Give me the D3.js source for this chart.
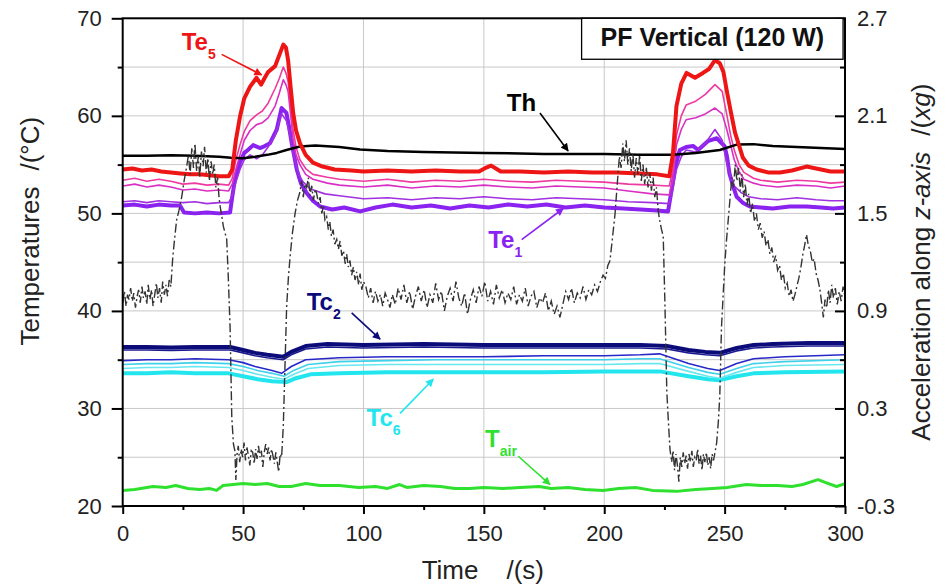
<!DOCTYPE html>
<html>
<head>
<meta charset="utf-8">
<script src="https://cdn.jsdelivr.net/npm/d3@7"></script>
<style>
  body { margin: 0; background: #fff; }
  svg { display: block; font-family: "Liberation Sans", Arial, sans-serif; }
</style>
</head>
<body>
<div id="chart"></div>
<script>
const width = 949, height = 586;

// ---- data: [time (s), value] ----
const te5 = [[0,54.5],[4,54.6],[8,54.4],[12,54.5],[16,54.3],[20,54.2],[24,54.1],[28,54.0],[32,54.0],[36,53.9],[40,53.8],[44,53.8],[45.5,54.5],[47,57.5],[48.7,59.9],[50.5,61.8],[52.9,63.0],[55.6,63.9],[57.5,63.2],[59,63.9],[60.4,64.5],[63.3,65.1],[65,66.2],[66.7,67.3],[67.8,67.0],[68.7,65.7],[69.8,62.8],[70.8,60.3],[72,58.5],[73.6,57.2],[76,56.0],[79,55.2],[83,54.8],[88,54.5],[95,54.4],[100,54.3],[110,54.4],[120,54.3],[130,54.4],[140,54.3],[148,54.3],[151,54.7],[153,54.9],[155,54.6],[157,54.3],[165,54.3],[175,54.2],[185,54.3],[195,54.2],[205,54.2],[215,54.1],[222,54.0],[227,53.8],[228.5,56],[230,61.0],[232,63.3],[234.2,64.4],[237.7,63.9],[241,64.4],[243.5,64.8],[246,65.7],[248,65.4],[249.5,64.5],[250.8,62.7],[252.5,60.5],[254.3,58.3],[257.6,55.7],[260,54.9],[263.3,54.5],[268,54.2],[273,54.2],[278,54.4],[284,54.8],[288,54.6],[294,54.3],[300,54.3]];
const te4 = [[0,53.4],[5,53.6],[10,53.3],[15,53.5],[20,53.3],[25,53.0],[30,53.1],[35,52.9],[40,53.0],[44,52.9],[45.5,53.6],[47,55.5],[48.7,57.0],[50.5,58.4],[52.9,59.5],[55.6,60.1],[58,60.5],[60.4,61.3],[63.3,62.8],[65,63.8],[66.7,65.0],[67.8,64.4],[68.7,63.5],[69.8,61.0],[70.8,58.5],[72,56.8],[73.6,55.5],[76,54.6],[79,54.0],[85,53.7],[90,53.5],[100,53.3],[110,53.5],[120,53.2],[130,53.4],[140,53.3],[150,53.5],[160,53.3],[170,53.2],[180,53.4],[190,53.3],[200,53.2],[210,53.0],[220,52.9],[227,52.8],[228.5,54.5],[230,58.0],[232,60.0],[234,61.1],[238,61.5],[242,62.2],[246,63.2],[249,62.5],[251,60.0],[252.5,58.0],[254,56.5],[256,55.0],[258,54.2],[262,53.6],[265,53.4],[272,53.2],[280,53.4],[288,53.3],[294,53.1],[300,53.2]];
const te3 = [[0,52.8],[5,53.0],[10,52.7],[15,52.9],[20,52.7],[25,52.4],[30,52.5],[35,52.3],[40,52.4],[44,52.3],[45.5,53.0],[47,54.5],[48.7,56.0],[50.5,57.5],[52.9,58.5],[55.6,59.1],[58,59.3],[60.4,59.8],[63.3,61.0],[65,62.3],[66.7,63.7],[67.8,63.2],[68.7,62.5],[69.8,60.0],[70.8,57.5],[72,56.0],[73.6,55.0],[76,54.0],[79,53.5],[85,53.1],[90,52.9],[100,52.7],[110,52.9],[120,52.6],[130,52.8],[140,52.7],[150,52.9],[160,52.7],[170,52.6],[180,52.8],[190,52.7],[200,52.6],[210,52.3],[220,52.0],[227,51.9],[228.5,53.5],[230,57.0],[232,58.6],[234,59.6],[238,59.8],[242,60.2],[246,60.8],[249,60.2],[251,58.5],[252.5,57.0],[254,55.5],[256,54.3],[258,53.5],[262,53.1],[265,52.9],[272,52.7],[280,52.9],[288,52.8],[294,52.6],[300,52.8]];
const te2 = [[0,51.2],[5,51.3],[10,51.1],[15,51.3],[20,51.2],[25,51.1],[30,51.2],[35,51.0],[40,51.1],[44,51.1],[45.5,51.8],[47,53.2],[48.7,54.5],[50.5,55.5],[52.9,56.0],[55.6,55.6],[58,56.0],[60.4,56.8],[63.3,58.0],[66,60.2],[68,59.5],[69.5,58.0],[70.5,56.5],[72,55.0],[73,54.0],[75,53.2],[78,52.5],[84,52.0],[90,51.8],[100,51.5],[110,51.6],[120,51.4],[130,51.6],[140,51.5],[150,51.7],[160,51.5],[170,51.4],[180,51.6],[190,51.5],[200,51.4],[210,51.2],[220,51.1],[227,51.0],[228.5,52.5],[230,54.5],[232,55.8],[234,56.5],[238,56.3],[242,57.2],[246,58.6],[249,57.5],[251,55.0],[252.5,53.8],[254,52.8],[257,52.1],[260,51.7],[265,51.5],[272,51.4],[280,51.6],[288,51.4],[294,51.3],[300,51.3]];
const te1 = [[0,50.8],[5,50.9],[10,50.7],[15,50.9],[20,50.8],[23.8,50.8],[25.5,50.1],[30,50.0],[35,50.1],[40,50.0],[44.6,50.1],[45.5,51.7],[46.6,53.4],[48.7,55.2],[50.5,56.2],[52,56.5],[54.2,57.0],[57,56.7],[59,56.9],[61.2,57.2],[64,58.6],[66,60.8],[68,60.3],[69,59.0],[70.2,57.2],[72.3,54.5],[74,53.1],[76.4,52.1],[79,51.3],[82,50.7],[87,50.4],[92,50.6],[98.6,50.2],[105,50.6],[112,50.9],[120,50.6],[128,50.8],[136,50.5],[144,50.8],[152,50.6],[160,50.9],[168,50.7],[176,50.9],[184,50.6],[192,50.8],[200,50.6],[208,50.5],[215,50.4],[222,50.3],[226.5,50.2],[228,52.4],[229.5,54.8],[231.4,56.5],[234,56.8],[237,56.9],[239,56.5],[243,57.4],[246.7,57.7],[250,56.9],[251,55.8],[252,54.1],[253.5,52.8],[255,51.7],[257.5,51.1],[260.5,50.7],[265,50.6],[270,50.5],[277,50.7],[284,50.7],[290,50.6],[295,50.5],[300,50.6]];
const th = [[0,55.9],[10,55.9],[20,55.95],[30,55.9],[40,55.8],[45,55.7],[50,55.65],[55,55.8],[60,56.0],[64,56.2],[68,56.5],[73.6,56.85],[80,56.95],[90,56.8],[98.6,56.55],[110,56.4],[125,56.3],[150,56.2],[175,56.1],[200,56.1],[215,56.0],[228.5,56.0],[238,56.2],[248,56.5],[255,57.05],[262,57.1],[270,56.9],[280,56.8],[290,56.7],[300,56.6]];
const tc2 = [[0,36.3],[10,36.3],[20,36.25],[30,36.3],[40,36.3],[44.6,36.3],[50,36.0],[55,35.7],[60,35.5],[66.6,35.3],[70,35.8],[76,36.4],[85,36.6],[100,36.5],[125,36.6],[150,36.5],[175,36.5],[200,36.5],[215,36.5],[226,36.4],[235,36.0],[242,35.8],[248,35.7],[255,36.2],[262,36.5],[270,36.6],[285,36.7],[300,36.7]];
const tc1 = [[0,36.0],[10,36.0],[20,35.95],[30,36.0],[40,36.0],[44.6,36.0],[50,35.7],[55,35.4],[60,35.2],[66.6,35.0],[70,35.5],[76,36.1],[85,36.3],[100,36.2],[125,36.3],[150,36.2],[175,36.2],[200,36.2],[215,36.2],[226,36.1],[235,35.7],[242,35.5],[248,35.4],[255,35.9],[262,36.2],[270,36.3],[285,36.4],[300,36.4]];
const tc3 = [[0,34.9],[10,35.0],[20,35.0],[30,35.1],[44,35.0],[50,34.7],[55,34.3],[62,33.9],[66,33.6],[70,34.3],[76,35.0],[90,35.2],[110,35.3],[130,35.3],[150,35.3],[175,35.4],[200,35.4],[215,35.5],[223,35.6],[235,34.6],[243,34.1],[248,33.9],[255,34.6],[262,35.1],[275,35.3],[300,35.5]];
const tc4 = [[0,34.5],[10,34.6],[20,34.6],[30,34.7],[44,34.6],[50,34.3],[56,33.9],[62,33.6],[67,33.3],[71,33.9],[77,34.5],[90,34.8],[110,34.9],[130,35.0],[150,35.0],[175,35.0],[200,35.0],[215,35.1],[223,35.1],[235,34.2],[243,33.7],[248,33.5],[255,34.1],[262,34.6],[275,34.8],[300,35.0]];
const tc5 = [[0,34.1],[10,34.2],[20,34.2],[30,34.3],[44,34.2],[50,33.9],[56,33.5],[62,33.2],[67,33.0],[71,33.5],[77,34.1],[90,34.4],[110,34.5],[130,34.5],[150,34.5],[175,34.5],[200,34.5],[215,34.6],[223,34.6],[235,33.8],[243,33.3],[248,33.1],[255,33.7],[262,34.2],[275,34.4],[300,34.5]];
const tc6 = [[0,33.6],[10,33.6],[20,33.7],[30,33.6],[44,33.6],[50,33.3],[56,33.0],[62,32.8],[68,32.7],[72,33.1],[78,33.5],[90,33.6],[110,33.7],[130,33.7],[150,33.7],[175,33.7],[200,33.8],[215,33.8],[223,33.8],[235,33.3],[243,33.0],[248,32.9],[255,33.3],[262,33.6],[275,33.7],[300,33.8]];
const tair = [[0,21.6],[5,21.7],[10,21.9],[12.6,22.0],[18,21.9],[22,22.1],[27,21.8],[32,21.7],[36,21.8],[39,21.6],[41.7,22.1],[46,22.2],[50,22.3],[55,22.2],[60,22.3],[65,22.0],[70,22.0],[76,22.3],[82,22.1],[90,22.1],[98,21.9],[105,22.0],[110,21.8],[115,22.2],[118,21.9],[125,22.1],[132,22.0],[138,21.8],[144,21.8],[150,21.9],[158,21.8],[165,21.9],[173,22.0],[178,21.8],[185,21.9],[192,21.7],[199.5,21.6],[206,21.8],[213,21.9],[220,21.6],[230,21.5],[238,21.7],[245,21.8],[251,21.9],[259,22.2],[265,22.1],[272,22.1],[278,22.0],[282.5,22.2],[288.8,22.7],[292,22.4],[296.5,22.0],[300,22.3]];

// acceleration along z (xg), right axis
const accel = [[0,0.95],[0.7,1.02],[1.4,0.93],[2,1.00],[2.6,0.97],[3.3,1.04],[4,0.96],[4.6,1.01],[5.3,0.92],[6,0.99],[6.6,1.03],[7.3,0.95],[8,1.05],[8.6,0.98],[9.3,1.02],[10,0.94],[10.6,1.06],[11.3,0.97],[12,1.03],[12.6,0.93],[13.3,1.00],[14,1.07],[14.6,0.98],[15.3,1.04],[16,0.95],[16.6,1.08],[17.3,1.00],[18,1.06],[18.6,0.99],[19.3,1.09],[20,1.05],
  [20.8,1.23],[21.6,1.35],[22.4,1.46],[23.4,1.52],[24.5,1.60],[25.5,1.70],[26.6,1.79],
  [27.3,1.86],[28,1.74],[28.7,1.90],[29.4,1.78],[30,1.93],[30.7,1.76],[31.4,1.85],[32,1.72],[32.7,1.88],[33.4,1.79],[34,1.91],[34.7,1.75],[35.4,1.84],[36,1.70],[36.7,1.82],[37.4,1.74],[38,1.80],[38.7,1.66],[39.4,1.72],[40,1.60],[40.5,1.54],[41.2,1.48],[41.8,1.42],[42.5,1.38],[43.2,1.34],[43.9,1.09],[44.6,0.80],[45.3,0.25],[46,0.08],[46.6,0.04],
  [47,-0.14],[47.5,0.02],[48,0.07],[48.6,-0.03],[49.2,0.05],[49.8,0.00],[50.4,0.09],[51,-0.02],[51.6,0.06],[52.2,0.01],[52.8,-0.05],[53.4,0.04],[54,0.03],[54.6,-0.04],[55.2,0.05],[55.8,-0.01],[56.4,0.07],[57,0.00],[57.6,0.04],[58.2,-0.06],[58.8,0.03],[59.4,0.08],[60,0.02],[60.6,0.06],[61.2,-0.02],[61.8,0.05],[62.4,0.01],[63,-0.04],[63.6,0.03],[64.2,-0.03],[64.8,-0.09],[65.4,0.02],[66,0.00],
  [66.7,0.19],[67.4,0.56],[68.1,0.93],[68.8,1.10],[69.5,1.23],[70.5,1.38],[71.6,1.50],[72.6,1.58],[73.6,1.63],[74.3,1.70],[75,1.60],[75.7,1.68],[76.4,1.66],[77.1,1.72],[77.8,1.61],[78.5,1.67],[79.2,1.58],[80,1.65],[80.6,1.62],[81.3,1.56],[82,1.60],[82.7,1.50],[83.4,1.55],[84,1.46],[84.7,1.48],[85.4,1.40],[86,1.45],[86.7,1.36],[87.4,1.40],[88.1,1.31],[88.9,1.34],[89.6,1.28],[90.3,1.33],[91,1.24],[91.7,1.27],[92.4,1.19],[93,1.25],[93.7,1.17],[94.4,1.21],[95.1,1.12],[95.8,1.17],[96.5,1.09],[97.2,1.14],[98,1.06],[98.6,1.13],[99.3,1.03],[100,1.08],[101,1.05],[102,0.98],[103,1.04],[104,0.95],[105,1.02],[106,0.96],[107,1.00],[108,0.93],[109,1.01],[110,0.97],[111,0.92],
  [112,1.00],[113.2,0.94],[114.4,1.04],[115.6,0.97],[116.8,1.06],[118,0.95],[119.2,1.02],[120.4,0.91],[121.6,0.99],[122.8,1.05],[124,0.96],[125.2,1.03],[126.4,0.92],[127.6,1.00],[128.8,0.95],[130,1.07],[131.2,0.97],[132.4,1.02],[133.6,0.90],[134.8,0.99],[136,1.04],[137.2,0.96],[138.4,1.08],[139.6,0.98],[140.8,0.93],[142,1.01],[143.2,0.88],[144.4,0.97],[145.6,1.03],[146.8,0.95],[148,1.05],[149.2,0.99],[150.4,1.08],[151.6,0.96],[152.8,1.02],[154,0.94],[155.2,1.06],[156.4,0.98],[157.6,1.03],[158.8,0.95],[160,1.01],[161.2,0.97],[162.4,1.05],[163.6,0.94],[164.8,1.00],[166,0.96],[167.2,1.04],[168.4,0.93],[169.6,0.99],[170.8,1.02],[172,0.92],[173.2,0.98],[174.4,0.95],[175.6,1.01],[176.8,0.90],[178,0.96],[179.2,0.88],[180.4,0.93],[181.6,0.86],[182.8,0.94],[184,1.02],[185.2,0.97],[186.4,1.04],[187.6,0.95],[188.8,1.01],[190,0.98],[191.2,1.05],[192.4,0.97],[193.6,1.03],[194.8,1.00],[196,1.06],[197.2,1.02],[198.4,1.08],
  [199.5,1.12],[200.5,1.10],[201.5,1.18],[202.4,1.21],[203.5,1.36],[204.5,1.50],[205.5,1.70],[206.3,1.85],[207,1.78],[207.7,1.93],[208.4,1.82],[209.1,1.95],[209.8,1.80],[210.5,1.90],[211.2,1.76],[211.9,1.87],[212.6,1.72],[213.3,1.84],[214,1.74],[214.7,1.86],[215.4,1.70],[216.1,1.80],[216.8,1.68],[217.5,1.78],[218.2,1.66],[218.9,1.75],[219.6,1.64],[220.3,1.72],[221,1.60],[221.7,1.66],[222.4,1.52],[223,1.46],[223.8,1.40],[224.5,1.36],[225.2,0.95],[226,0.40],[226.6,0.23],[227.3,0.05],
  [228,-0.03],[228.6,0.04],[229.2,-0.08],[229.8,0.02],[230.4,-0.05],[231,-0.15],[231.6,0.00],[232.2,-0.06],[232.8,0.03],[233.4,-0.04],[234,0.01],[234.6,-0.07],[235.2,0.02],[235.8,-0.03],[236.4,0.04],[237,-0.06],[237.6,0.00],[238.2,-0.02],[238.8,0.05],[239.4,-0.04],[240,0.01],[240.6,-0.08],[241.2,0.02],[241.8,-0.03],[242.4,0.03],[243,-0.05],[243.6,0.00],[244.2,-0.07],[244.8,0.02],[245.4,-0.02],[246,0.03],
  [246.7,0.09],[247.4,0.22],[248,0.38],[248.7,0.80],[249.4,1.00],[250,1.17],[250.7,1.32],[251.5,1.46],[252.3,1.60],[253,1.72],[253.7,1.66],[254.4,1.80],[255.1,1.70],[255.8,1.78],[256.5,1.64],[257.2,1.74],[257.9,1.60],[258.6,1.68],[259.3,1.55],[260,1.62],[260.8,1.50],[261.6,1.56],[262.4,1.45],[263.2,1.50],[264,1.40],[264.8,1.44],[265.6,1.35],[266.4,1.39],[267.2,1.30],[268,1.34],[268.8,1.25],[269.6,1.29],[270.4,1.20],[271.2,1.24],[272,1.15],[272.8,1.18],[273.6,1.09],[274.4,1.13],[275.2,1.04],[276,1.07],[276.8,0.99],[277.6,1.03],[278.4,0.96],[279.2,1.00],[280,1.05],[280.8,1.10],[281.6,1.16],[282.4,1.24],[283.2,1.30],[284,1.37],[284.8,1.30],[285.6,1.27],[286.4,1.20],[287.2,1.22],[288,1.13],[288.8,1.09],[289.6,1.03],[290.3,0.95],[291,0.86],[291.7,0.97],[292.4,0.92],[293.1,1.03],[293.8,0.95],[294.5,1.06],[295.2,0.98],[296,1.04],[296.8,0.94],[297.6,1.02],[298.4,0.96],[299.2,1.05],[300,0.99]];

const tempTicks = [20, 30, 40, 50, 60, 70];
const tempMinor = [25, 35, 45, 55, 65];
const timeTicks = [0, 50, 100, 150, 200, 250, 300];
const timeMinor = [25, 75, 125, 175, 225, 275];
const accTicks = [-0.3, 0.3, 0.9, 1.5, 2.1, 2.7];
const accMinor = [0, 0.6, 1.2, 1.8, 2.4];

// series drawn back to front
const series = [
  {name: "Tair", data: tair, color: "#2fe02f", w: 3},
  {name: "Tc6", data: tc6, color: "#22e5ee", w: 4},
  {name: "Tc5", data: tc5, color: "#66e8f0", w: 1.6},
  {name: "Tc4", data: tc4, color: "#3fd0ea", w: 1.6},
  {name: "Tc3", data: tc3, color: "#2828c8", w: 1.6},
  {name: "Tc1", data: tc1, color: "#1a1a90", w: 1.6},
  {name: "Tc2", data: tc2, color: "#0b0b7a", w: 4},
  {name: "Te1", data: te1, color: "#8a22f0", w: 4},
  {name: "Te2", data: te2, color: "#a030e0", w: 1.6},
  {name: "Te3", data: te3, color: "#d92fc4", w: 1.6},
  {name: "Te4", data: te4, color: "#ee3aa0", w: 1.6},
  {name: "Th", data: th, color: "#000000", w: 2.5},
  {name: "Te5", data: te5, color: "#ee1515", w: 4}
];

// annotations: label position and arrow in data units
const notes = [
  {main: "Te", sub: "5", color: "#ee1515", at: [24.5, 66.7], from: [41.1, 66.3], to: [57.7, 64.2]},
  {main: "Th", sub: "", color: "#000000", at: [159.5, 60.5], from: [173.3, 60.3], to: [185.0, 56.4]},
  {main: "Te", sub: "1", color: "#8a22f0", at: [151.8, 46.4], from: [165.7, 47.3], to: [183.0, 50.5]},
  {main: "Tc", sub: "2", color: "#0b0b7a", at: [76.4, 40.1], from: [95.1, 39.8], to: [106.9, 37.1]},
  {main: "Tc", sub: "6", color: "#22e5ee", at: [101.3, 28.2], from: [115.2, 29.5], to: [129.0, 33.0]},
  {main: "T", sub: "air", color: "#2fe02f", at: [150.5, 26.1], from: [164.3, 25.1], to: [177.5, 22.2]}
];

const plotL = 122.7, plotR = 845, plotT = 18.3, plotB = 506;

const x = d3.scaleLinear().domain([0, 300]).range([plotL, plotR]);
const y = d3.scaleLinear().domain([20, 70]).range([plotB, plotT]);
const yAcc = d3.scaleLinear().domain([-0.3, 2.7]).range([plotB, plotT]);

const svg = d3.select("#chart").append("svg")
  .attr("width", width)
  .attr("height", height);

// grid
const grid = svg.append("g").attr("stroke", "#c8c8c8").attr("stroke-width", 1);
grid.selectAll("line.h").data(d3.range(25, 70, 5)).join("line")
  .attr("x1", plotL).attr("x2", plotR)
  .attr("y1", d => y(d)).attr("y2", d => y(d));
grid.selectAll("line.v").data(timeTicks.slice(1, -1)).join("line")
  .attr("y1", plotT).attr("y2", plotB)
  .attr("x1", d => x(d)).attr("x2", d => x(d));

// temperature lines
const line = d3.line().x(d => x(d[0])).y(d => y(d[1]));
svg.append("g").selectAll("path").data(series).join("path")
  .attr("d", d => line(d.data))
  .attr("fill", "none")
  .attr("stroke", d => d.color)
  .attr("stroke-width", d => d.w)
  .attr("stroke-linejoin", "round");

// acceleration
const accLine = d3.line().x(d => x(d[0])).y(d => yAcc(d[1]));
svg.append("path")
  .attr("d", accLine(accel))
  .attr("fill", "none")
  .attr("stroke", "#333")
  .attr("stroke-width", 1.4)
  .attr("stroke-dasharray", "9,3,2,3");

// axes
function styleAxis(g) {
  g.select(".domain").remove();
  g.selectAll(".tick line").attr("stroke", "#000").attr("stroke-width", 2);
  g.selectAll(".tick text").attr("fill", "#222").attr("font-size", 22)
    .attr("font-family", "Liberation Sans, Arial, sans-serif");
}

svg.append("g").attr("transform", `translate(${plotL},0)`)
  .call(d3.axisLeft(y).tickValues(tempTicks).tickSize(11).tickPadding(10).tickSizeOuter(0))
  .call(styleAxis);
svg.append("g").attr("transform", `translate(${plotL},0)`)
  .call(d3.axisLeft(y).tickValues(tempMinor).tickSize(5).tickFormat("").tickSizeOuter(0))
  .call(styleAxis);

svg.append("g").attr("transform", `translate(0,${plotB})`)
  .call(d3.axisBottom(x).tickValues(timeTicks).tickSize(8).tickPadding(11).tickSizeOuter(0))
  .call(styleAxis);
svg.append("g").attr("transform", `translate(0,${plotB})`)
  .call(d3.axisBottom(x).tickValues(timeMinor).tickSize(4).tickFormat("").tickSizeOuter(0))
  .call(styleAxis);

svg.append("g").attr("transform", `translate(${plotR},0)`)
  .call(d3.axisRight(yAcc).tickValues(accTicks).tickSize(-10).tickPadding(12)
    .tickFormat(d => d.toFixed(1)).tickSizeOuter(0))
  .call(styleAxis)
  .call(g => g.selectAll(".tick text").attr("x", 12));
svg.append("g").attr("transform", `translate(${plotR},0)`)
  .call(d3.axisRight(yAcc).tickValues(accMinor).tickSize(-5).tickFormat("").tickSizeOuter(0))
  .call(styleAxis);

// frame
svg.append("rect")
  .attr("x", plotL).attr("y", plotT)
  .attr("width", plotR - plotL).attr("height", plotB - plotT)
  .attr("fill", "none").attr("stroke", "#000").attr("stroke-width", 2);

// title box
const boxX = x(190.6), boxB = y(65.8);
svg.append("rect")
  .attr("x", boxX).attr("y", plotT)
  .attr("width", x(299.2) - boxX).attr("height", boxB - plotT)
  .attr("fill", "#fff").attr("stroke", "#000").attr("stroke-width", 1.3);
svg.append("text")
  .attr("x", (boxX + x(299.2)) / 2).attr("y", 46)
  .attr("text-anchor", "middle")
  .attr("font-size", 25).attr("font-weight", "bold").attr("fill", "#111")
  .text("PF Vertical (120 W)");

// axis titles
svg.append("text")
  .attr("transform", `translate(39,${(plotT + plotB) / 2 - 31}) rotate(-90)`)
  .attr("text-anchor", "middle")
  .attr("font-size", 26).attr("fill", "#222")
  .call(t => {
    t.append("tspan").text("Temperatures");
    t.append("tspan").attr("dx", 16).text("/(°C)");
  });

const rt = svg.append("text")
  .attr("transform", `translate(930,${(plotT + plotB) / 2}) rotate(-90)`)
  .attr("text-anchor", "middle")
  .attr("font-size", 26).attr("fill", "#222");
rt.append("tspan").text("Acceleration along ");
rt.append("tspan").attr("font-style", "italic").text("z-axis");
rt.append("tspan").attr("dx", 16).text("/(");
rt.append("tspan").attr("font-style", "italic").text("xg");
rt.append("tspan").text(")");

const bt = svg.append("text")
  .attr("x", (plotL + plotR) / 2 - 1).attr("y", 579)
  .attr("text-anchor", "middle")
  .attr("font-size", 26).attr("fill", "#222");
bt.append("tspan").text("Time");
bt.append("tspan").attr("dx", 28).text("/(s)");

// annotations
const defs = svg.append("defs");
notes.forEach((n, i) => {
  defs.append("marker")
    .attr("id", "arr" + i)
    .attr("viewBox", "0 0 10 10")
    .attr("refX", 9).attr("refY", 5)
    .attr("markerUnits", "userSpaceOnUse")
    .attr("markerWidth", 10).attr("markerHeight", 8)
    .attr("orient", "auto")
    .append("path").attr("d", "M0,0L10,5L0,10z").attr("fill", n.color);

  svg.append("line")
    .attr("x1", x(n.from[0])).attr("y1", y(n.from[1]))
    .attr("x2", x(n.to[0])).attr("y2", y(n.to[1]))
    .attr("stroke", n.color).attr("stroke-width", 1.6)
    .attr("marker-end", `url(#arr${i})`);

  const t = svg.append("text")
    .attr("x", x(n.at[0])).attr("y", y(n.at[1]))
    .attr("font-size", 24).attr("font-weight", "bold").attr("fill", n.color);
  t.append("tspan").text(n.main);
  if (n.sub) t.append("tspan").attr("dy", 9).attr("font-size", 14).text(n.sub);
});
</script>
</body>
</html>
